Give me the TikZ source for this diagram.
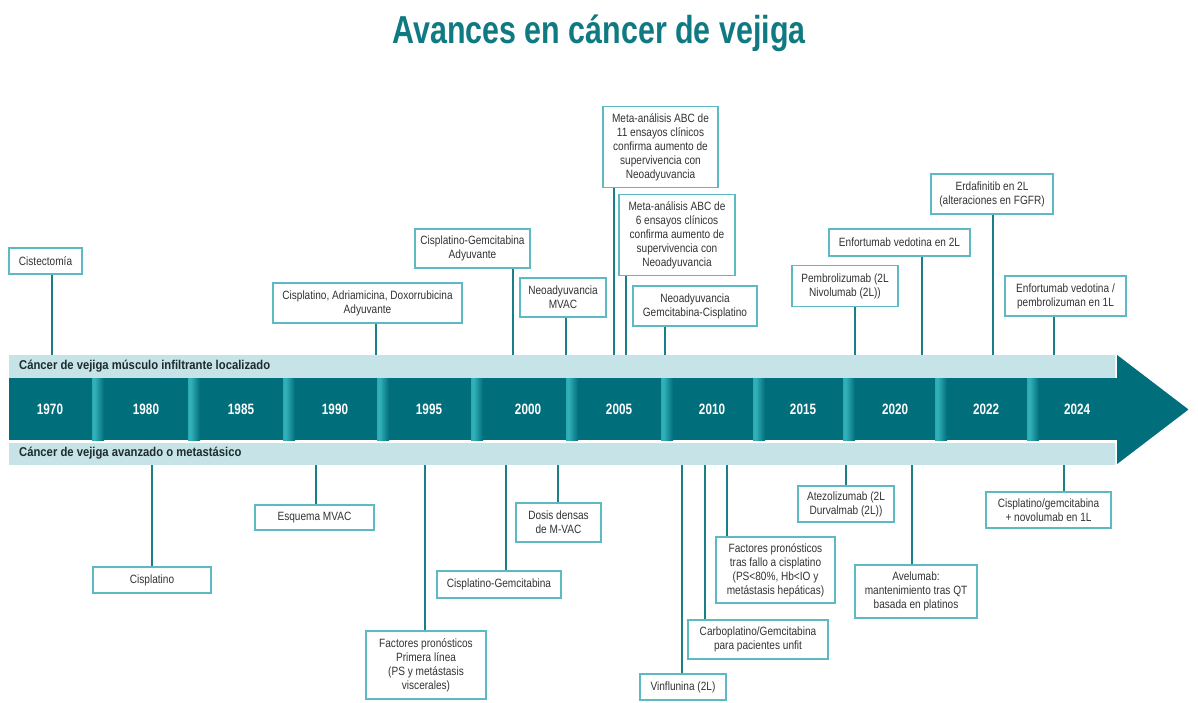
\documentclass[tikz,border=0pt]{standalone}
\usepackage{fontspec}
\setmainfont{Liberation Sans}[FakeStretch=0.84]
\newfontfamily\titlefont{Liberation Sans}[FakeStretch=0.78]
\newfontfamily\yearfont{Liberation Sans}[FakeStretch=0.78]
\newfontfamily\bandfont{Liberation Sans}[FakeStretch=0.88]
\definecolor{teal1}{HTML}{006E7B}
\definecolor{titlec}{HTML}{0F7A82}
\definecolor{lightband}{HTML}{C6E4E7}
\definecolor{boxc}{HTML}{5DBAC2}
\definecolor{linec}{HTML}{1A7F89}
\definecolor{txt}{HTML}{333333}
\definecolor{bandtxt}{HTML}{1E2B2D}
\definecolor{stripA}{HTML}{1C9BA5}
\definecolor{stripB}{HTML}{33B2BA}
\definecolor{stripC}{HTML}{00555F}
\pgfdeclarehorizontalshading{strip}{100bp}{color(0bp)=(stripA); color(35bp)=(stripB); color(75bp)=(teal1); color(100bp)=(stripC)}
\begin{document}
\begin{tikzpicture}[x=1pt,y=-1pt,
  box/.style={draw=boxc, line width=1.3pt, fill=white, text=txt, align=center, inner sep=0pt,
    font=\fontsize{12}{14}\selectfont},
  conn/.style={draw=linec, line width=1.6pt},
  yearlbl/.style={text=white, font=\yearfont\bfseries\fontsize{15}{16}\selectfont},
  bandlbl/.style={anchor=west, text=bandtxt, inner sep=0pt, font=\bandfont\bfseries\fontsize{12.8}{14}\selectfont}]
\useasboundingbox[fill=white] (0,0) rectangle (1198,703);
% title
\node[text=titlec, font=\titlefont\bfseries\fontsize{39}{44}\selectfont] (title) at (599,33) {Avances en cáncer de vejiga};
% bands
\fill[lightband] (9,355) rectangle (1116,378);
\fill[lightband] (9,443) rectangle (1116,465);
\fill[teal1] (9,378) rectangle (1116,440);
\filldraw[fill=teal1, draw=white, line width=1.5pt] (1116,353) -- (1190,409.5) -- (1116,466) -- cycle;
\fill[teal1] (1100,378) rectangle (1118,440);
\foreach \s in {92,188,283,377,471,566,661,753,843,935,1027}
  \shade[shading=strip] (\s,378) rectangle (\s+12,440);
\node[bandlbl] (bandtop) at (19,366) {Cáncer de vejiga músculo infiltrante localizado};
\node[bandlbl] (bandbot) at (19,453.5) {Cáncer de vejiga avanzado o metastásico};
\foreach \x/\y in {50/1970,146/1980,241/1985,335/1990,429/1995,528/2000,619/2005,712/2010,803/2015,895/2020,986/2022,1077/2024}
  \node[yearlbl] (y\y) at (\x,409) {\y};
% upper boxes
\node[box, minimum width=73pt, minimum height=26pt] (u1) at (45.5,261) {Cistectomía};
\node[box, minimum width=189pt, minimum height=40pt] (u2) at (367.5,303) {Cisplatino, Adriamicina, Doxorrubicina\\Adyuvante};
\node[box, minimum width=115pt, minimum height=39pt] (u3) at (472.5,248.5) {Cisplatino-Gemcitabina\\Adyuvante};
\node[box, minimum width=86pt, minimum height=39pt] (u4) at (563,297.5) {Neoadyuvancia\\MVAC};
\node[box, minimum width=115pt, minimum height=81pt] (u5) at (660.5,147) {Meta-análisis ABC de\\11 ensayos clínicos\\confirma aumento de\\supervivencia con\\Neoadyuvancia};
\node[box, minimum width=116pt, minimum height=81pt] (u6) at (677,235) {Meta-análisis ABC de\\6 ensayos clínicos\\confirma aumento de\\supervivencia con\\Neoadyuvancia};
\node[box, minimum width=124pt, minimum height=40pt] (u7) at (695,306) {Neoadyuvancia\\Gemcitabina-Cisplatino};
\node[box, minimum width=106pt, minimum height=41pt] (u8) at (845,286) {Pembrolizumab (2L\\Nivolumab (2L))};
\node[box, minimum width=141pt, minimum height=27pt] (u9) at (899.5,242.5) {Enfortumab vedotina en 2L};
\node[box, minimum width=122pt, minimum height=40pt] (u10) at (992,194) {Erdafinitib en 2L\\(alteraciones en FGFR)};
\node[box, minimum width=121pt, minimum height=40pt] (u11) at (1065.5,296) {Enfortumab vedotina /\\pembrolizuman en 1L};
% lower boxes
\node[box, minimum width=118pt, minimum height=26pt] (l1) at (152,580) {Cisplatino};
\node[box, minimum width=119pt, minimum height=25pt] (l2) at (314.5,517.5) {Esquema MVAC};
\node[box, minimum width=120pt, minimum height=68pt] (l3) at (426,665) {Factores pronósticos\\Primera línea\\(PS y metástasis\\viscerales)};
\node[box, minimum width=124pt, minimum height=27pt] (l4) at (499,584.5) {Cisplatino-Gemcitabina};
\node[box, minimum width=85pt, minimum height=39pt] (l5) at (558.5,522.5) {Dosis densas\\de M-VAC};
\node[box, minimum width=86pt, minimum height=26pt] (l6) at (683,687) {Vinflunina (2L)};
\node[box, minimum width=140pt, minimum height=39pt] (l7) at (758,639.5) {Carboplatino/Gemcitabina\\para pacientes unfit};
\node[box, minimum width=119pt, minimum height=66pt] (l8) at (775.5,570) {Factores pronósticos\\tras fallo a cisplatino\\(PS<80\%, Hb<IO y\\metástasis hepáticas)};
\node[box, minimum width=96pt, minimum height=36pt] (l9) at (846,504) {Atezolizumab (2L\\Durvalmab (2L))};
\node[box, minimum width=122pt, minimum height=53pt] (l10) at (916,591.5) {Avelumab:\\mantenimiento tras QT\\basada en platinos};
\node[box, minimum width=125pt, minimum height=36pt] (l11) at (1048.5,510) {Cisplatino/gemcitabina\\+ novolumab en 1L};
% band anchor coordinates
\foreach \n/\x in {u1/52,u2/376,u3/513,u4/566,u5/614,u6/626,u7/665,u8/855,u9/922,u10/993,u11/1054}
  \coordinate (t\n) at (\x,355);
\foreach \n/\x in {l1/152,l2/316,l3/425,l4/506,l5/558,l6/682,l7/705,l8/727,l9/846,l10/912,l11/1064}
  \coordinate (t\n) at (\x,465);
% connectors
\foreach \n in {u1,u2,u3,u4,u5,u6,u7,u8,u9,u10,u11}
  \draw[conn] (t\n |- \n.south) -- (t\n);
\foreach \n in {l1,l2,l3,l4,l5,l6,l7,l8,l9,l10,l11}
  \draw[conn] (t\n |- \n.north) -- (t\n);
\end{tikzpicture}
\end{document}
